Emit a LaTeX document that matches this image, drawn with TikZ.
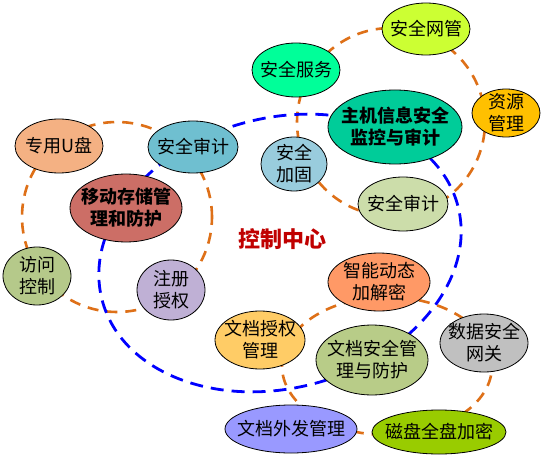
\documentclass[tikz,border=0pt]{standalone}
\usepackage{fontspec}
\setmainfont{Noto Sans CJK SC}
\usetikzlibrary{shapes.geometric}
\definecolor{dorange}{RGB}{222,112,24}
\definecolor{ctitle}{RGB}{192,0,0}
\begin{document}
\begin{tikzpicture}[x=1pt,y=-1pt,
  ell/.style={ellipse, draw=black, line width=0.8pt, inner sep=0pt},
  txt/.style={font=\fontsize{18}{22}\selectfont, align=center, inner sep=0pt, text=black},
  btxt/.style={font=\fontsize{18}{22}\selectfont\bfseries, align=center, inner sep=0pt, text=black},
  odash/.style={draw=dorange, line width=2.6pt, dash pattern=on 11pt off 8pt},
  bdash/.style={draw=blue, line width=2.8pt, dash pattern=on 13pt off 8pt}]
\fill[white] (0,0) rectangle (543,457);
\useasboundingbox (0,0) rectangle (543,457);

% dashed rings
\coordinate (cl) at (117,217);
\coordinate (ctr) at (391,122);
\coordinate (cb) at (387,366);
\coordinate (cm) at (280,253);
\draw[odash] (cl) circle[radius=95pt];
\draw[odash] (ctr) circle[radius=94pt];
\draw[odash] (cb) ellipse[x radius=105pt, y radius=69pt];
\draw[bdash, rotate around={15:(cm)}] (cm) ellipse[x radius=184pt, y radius=135pt];

% nodes
\node[ell, fill={rgb,255:red,204;green,255;blue,51}, minimum width=88pt, minimum height=52pt,
  label={[txt]center:安全网管}] (wg) at (426,29) {};
\node[ell, fill={rgb,255:red,0;green,255;blue,153}, minimum width=88pt, minimum height=54pt,
  label={[txt]center:安全服务}] (fw) at (296,70) {};
\node[ell, fill={rgb,255:red,255;green,192;blue,0}, minimum width=68pt, minimum height=48pt,
  label={[txt]center:{资源\\管理}}] (zy) at (506,113) {};
\node[ell, fill={rgb,255:red,0;green,204;blue,153}, minimum width=134pt, minimum height=74pt,
  label={[btxt]center:{主机信息安全\\监控与审计}}] (zj) at (395,127) {};
\node[ell, fill={rgb,255:red,153;green,204;blue,221}, minimum width=66pt, minimum height=54pt,
  label={[txt]center:{安全\\加固}}] (jg) at (294,164) {};
\node[ell, fill={rgb,255:red,204;green,221;blue,170}, minimum width=90pt, minimum height=54pt,
  label={[txt]center:安全审计}] (sj2) at (403,204) {};
\node[ell, fill={rgb,255:red,244;green,177;blue,131}, minimum width=88pt, minimum height=54pt,
  label={[txt]center:专用U盘}] (up) at (59,146) {};
\node[ell, fill={rgb,255:red,111;green,191;blue,208}, minimum width=90pt, minimum height=52pt,
  label={[txt]center:安全审计}] (sj1) at (193,147) {};
\node[ell, fill={rgb,255:red,204;green,110;blue,102}, minimum width=112pt, minimum height=68pt,
  label={[btxt]center:{移动存储管\\理和防护}}] (yd) at (126,208) {};
\node[ell, fill={rgb,255:red,181;green,201;blue,138}, minimum width=68pt, minimum height=58pt,
  label={[txt]center:{访问\\控制}}] (fk) at (37,276) {};
\node[ell, fill={rgb,255:red,191;green,176;blue,213}, minimum width=68pt, minimum height=60pt,
  label={[txt]center:{注册\\授权}}] (zc) at (171,290) {};
\node[ell, fill={rgb,255:red,255;green,153;blue,102}, minimum width=102pt, minimum height=58pt,
  label={[txt]center:{智能动态\\加解密}}] (zn) at (379,282) {};
\node[ell, fill={rgb,255:red,255;green,204;blue,102}, minimum width=90pt, minimum height=58pt,
  label={[txt]center:{文档授权\\管理}}] (wq) at (260,340) {};
\node[ell, fill={rgb,255:red,184;green,204;blue,136}, minimum width=112pt, minimum height=70pt,
  label={[txt]center:{文档安全管\\理与防护}}] (wa) at (372,360) {};
\node[ell, fill={rgb,255:red,192;green,192;blue,192}, minimum width=88pt, minimum height=58pt,
  label={[txt]center:{数据安全\\网关}}] (sg) at (484,343) {};
\node[ell, fill={rgb,255:red,153;green,153;blue,255}, minimum width=132pt, minimum height=48pt,
  label={[txt]center:文档外发管理}] (wf) at (291,429) {};
\node[ell, fill={rgb,255:red,153;green,204;blue,0}, minimum width=134pt, minimum height=44pt,
  label={[txt]center:磁盘全盘加密}] (cp) at (439,432) {};

\node[font=\fontsize{22}{24}\selectfont\bfseries, text=ctitle, inner sep=0pt] (kz) at (282,239) {控制中心};
\end{tikzpicture}
\end{document}
